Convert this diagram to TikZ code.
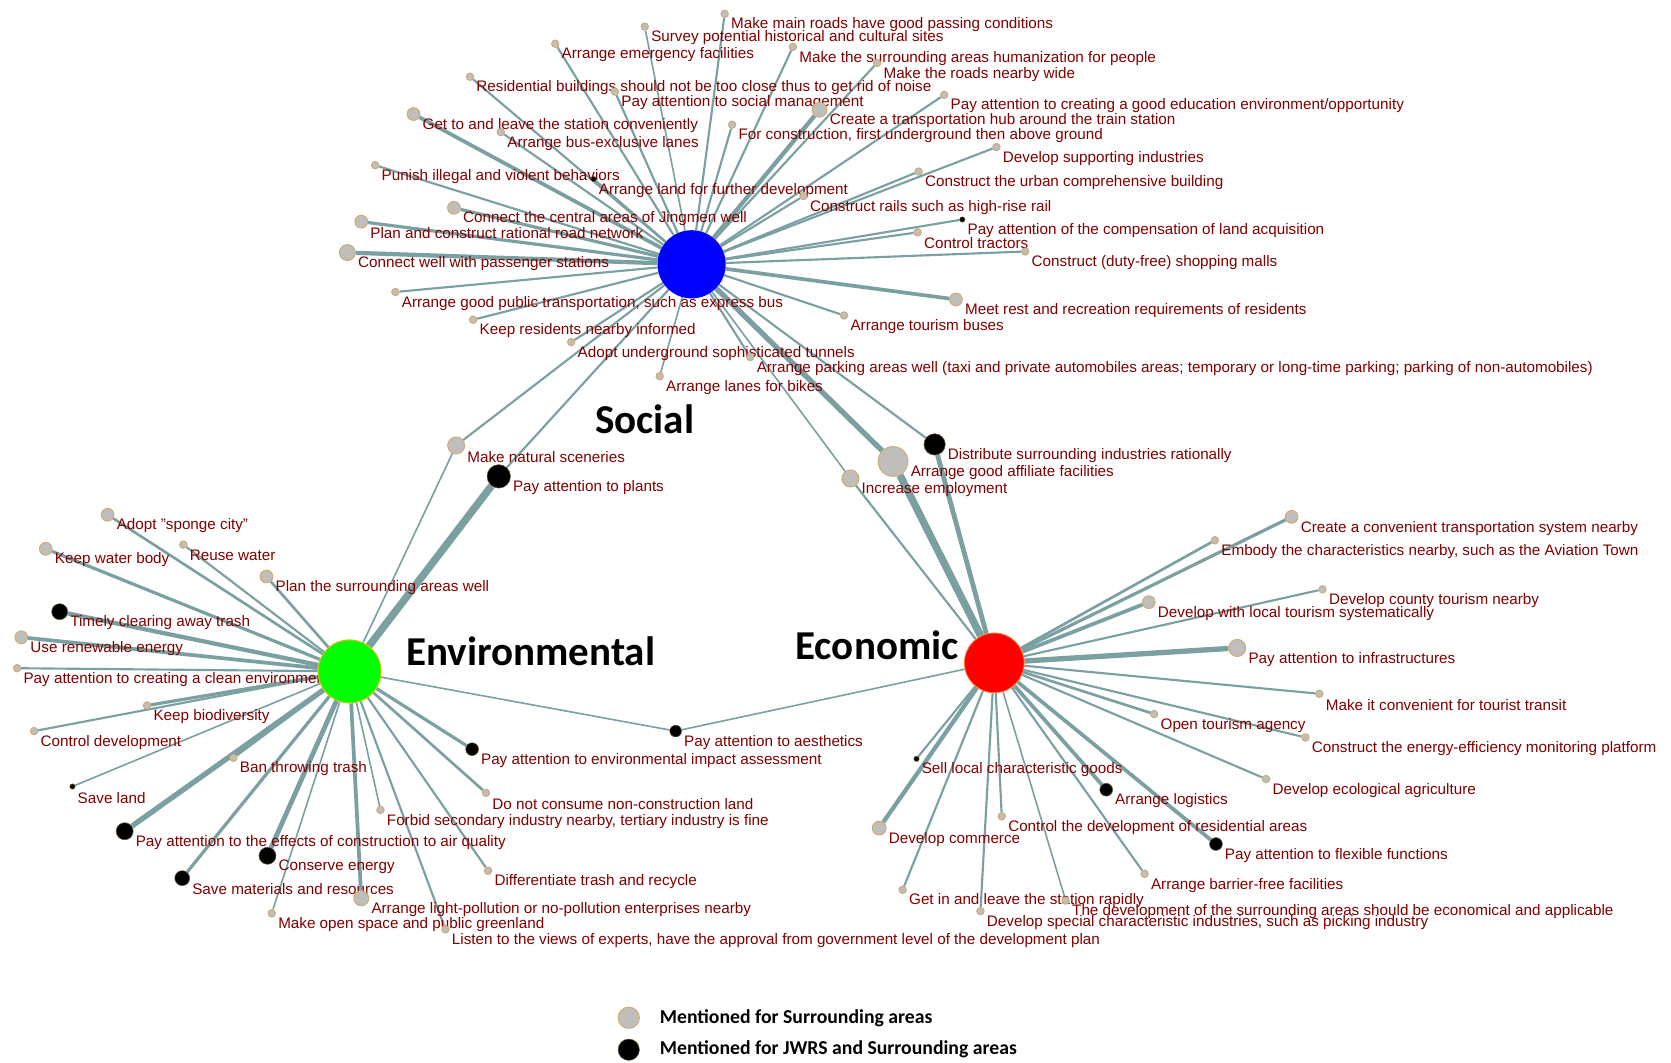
\documentclass[tikz,border=0pt]{standalone}
\usepackage{fontspec}
\setmainfont{Liberation Sans}
\newfontfamily\calib{Carlito}
\usetikzlibrary{calc}
\pgfdeclarelayer{bg}
\pgfdeclarelayer{edges}
\pgfdeclarelayer{front}
\pgfsetlayers{bg,edges,main,front}
\definecolor{edgec}{RGB}{122,160,162}
\definecolor{lblred}{RGB}{128,0,0}
\definecolor{nodefill}{RGB}{192,190,186}
\definecolor{nodeborder}{RGB}{205,168,110}
\definecolor{hubgreen}{RGB}{0,255,0}
\definecolor{hubgreenb}{RGB}{190,200,0}
\definecolor{hubredb}{RGB}{255,120,40}
\tikzset{
 lbl/.style={text=lblred, font=\fontsize{14.3}{15}\selectfont, anchor=west, inner sep=0pt},
 gnode/.style={circle, fill=nodefill, draw=nodeborder, line width=0.8pt, inner sep=0pt, minimum size=#1},
 bnode/.style={circle, fill=black, draw=nodeborder!50!black, line width=0.5pt, inner sep=0pt, minimum size=#1},
 edge/.style={draw=edgec},
 hubnode/.style={circle, inner sep=0pt, minimum size=#1},
 titletext/.style={font=\calib\bfseries\fontsize{38.5}{42}\selectfont, text=black},
 legendtext/.style={font=\calib\bfseries\fontsize{18.5}{21}\selectfont, anchor=west, inner sep=0pt},
}
% #1 name, #2 x, #3 y, #4 node style, #5 hub, #6 edge width, #7 text
\newcommand\leaf[7]{%
 \node[#4] (#1) at (#2,#3) {};
 \node[lbl] (#1-t) at ([shift={(2,10.5)}]#1.east) {#7};
 \begin{pgfonlayer}{edges}\draw[edge, line width=#6pt] (#5) -- (#1);\end{pgfonlayer}%
}
\newcommand\link[3]{\begin{pgfonlayer}{edges}\draw[edge, line width=#3pt] (#1) -- (#2);\end{pgfonlayer}}
\begin{document}
\begin{tikzpicture}[x=1pt,y=-1pt]
\begin{pgfonlayer}{bg}
\fill[white] (0,0) rectangle (1568,997);
\end{pgfonlayer}
\useasboundingbox (0,0) rectangle (1568,997);
\begin{pgfonlayer}{front}
\node[hubnode=64, fill=blue] (S) at (649,248) {};
\node[hubnode=59, fill=hubgreen, draw=hubgreenb, line width=1pt] (E) at (328,630) {};
\node[hubnode=56, fill=red, draw=hubredb, line width=0.8pt] (C) at (933,622) {};
\end{pgfonlayer}
% ---------------- Social ----------------
\leaf{s1}{680}{13}{gnode=7}{S}{2}{Make main roads have good passing conditions}
\leaf{s2}{605}{25}{gnode=7}{S}{1.5}{Survey potential historical and cultural sites}
\leaf{s3}{521}{41}{gnode=7}{S}{2}{Arrange emergency facilities}
\leaf{s4}{744}{44}{gnode=7}{S}{2}{Make the surrounding areas humanization for people}
\leaf{s5}{823}{59}{gnode=7}{S}{2}{Make the roads nearby wide}
\leaf{s6}{441}{72}{gnode=7}{S}{2}{Residential buildings should not be too close thus to get rid of noise}
\leaf{s7}{577}{86}{gnode=7}{S}{2}{Pay attention to social management}
\leaf{s8}{886}{89}{gnode=7}{S}{2}{Pay attention to creating a good education environment/opportunity}
\leaf{s9}{769}{103}{gnode=14}{S}{4}{Create a transportation hub around the train station}
\leaf{s10}{388}{107}{gnode=12}{S}{3.5}{Get to and leave the station conveniently}
\leaf{s11}{470}{124}{gnode=7}{S}{2}{Arrange bus-exclusive lanes}
\leaf{s12}{687}{117}{gnode=7}{S}{2}{For construction, first underground then above ground}
\leaf{s13}{935}{138}{gnode=7}{S}{2}{Develop supporting industries}
\leaf{s14}{352}{155}{gnode=7}{S}{2}{Punish illegal and violent behaviors}
\leaf{s15}{862}{161}{gnode=7}{S}{2}{Construct the urban comprehensive building}
\leaf{s16}{557}{168}{bnode=5}{S}{2}{Arrange land for further development}
\leaf{s17}{754}{184}{gnode=7}{S}{2}{Construct rails such as high-rise rail}
\leaf{s18}{426}{195}{gnode=12}{S}{3}{Connect the central areas of Jingmen well}
\leaf{s19}{903}{206}{bnode=5}{S}{2}{Pay attention of the compensation of land acquisition}
\leaf{s20}{339}{208}{gnode=12}{S}{3}{Plan and construct rational road network}
\leaf{s21}{861}{218}{gnode=7}{S}{2}{Control tractors}
\leaf{s22}{962}{236}{gnode=7}{S}{2}{Construct (duty-free) shopping malls}
\leaf{s23}{326}{237}{gnode=15}{S}{4}{Connect well with passenger stations}
\leaf{s24}{371}{274}{gnode=7}{S}{2}{Arrange good public transportation, such as express bus}
\leaf{s25}{897}{281}{gnode=12}{S}{3.5}{Meet rest and recreation requirements of residents}
\leaf{s26}{444}{300}{gnode=7}{S}{2}{Keep residents nearby informed}
\leaf{s27}{792}{296}{gnode=7}{S}{2}{Arrange tourism buses}
\leaf{s28}{536}{321}{gnode=7}{S}{2}{Adopt underground sophisticated tunnels}
\leaf{s29}{704}{335}{gnode=7}{S}{2}{Arrange parking areas well (taxi and private automobiles areas; temporary or long-time parking; parking of non-automobiles)}
\leaf{s30}{619}{353}{gnode=7}{S}{1.5}{Arrange lanes for bikes}
% ---------------- Bridges ----------------
\leaf{b1}{428}{418}{gnode=16}{S}{2}{Make natural sceneries}
\link{b1}{E}{1.5}
\leaf{b2}{468}{447}{bnode=22}{S}{2}{Pay attention to plants}
\link{b2}{E}{7}
\leaf{b3}{877}{417}{bnode=20}{S}{2}{Distribute surrounding industries rationally}
\link{b3}{C}{4.5}
\leaf{b4}{838}{433}{gnode=28}{S}{5}{Arrange good affiliate facilities}
\link{b4}{C}{7}
\leaf{b5}{798}{449}{gnode=16}{S}{1.5}{Increase employment}
\link{b5}{C}{2}
\leaf{b6}{634}{686}{bnode=11}{E}{1.5}{Pay attention to aesthetics}
\link{b6}{C}{1.5}
% ---------------- Environmental ----------------
\leaf{e1}{101}{483}{gnode=12}{E}{2.5}{Adopt "sponge city"}
\leaf{e2}{172}{511}{gnode=7}{E}{2}{Reuse water}
\leaf{e3}{43}{515}{gnode=12}{E}{3}{Keep water body}
\leaf{e4}{250}{541}{gnode=12}{E}{2.5}{Plan the surrounding areas well}
\leaf{e5}{56}{574}{bnode=15}{E}{4}{Timely clearing away trash}
\leaf{e6}{20}{598}{gnode=12}{E}{3.5}{Use renewable energy}
\leaf{e7}{16}{627}{gnode=7}{E}{2}{Pay attention to creating a clean environment}
\leaf{e8}{138}{662}{gnode=7}{E}{3}{Keep biodiversity}
\leaf{e9}{32}{686}{gnode=7}{E}{2}{Control development}
\leaf{e10}{219}{711}{gnode=7}{E}{2.5}{Ban throwing trash}
\leaf{e11}{68}{738}{bnode=5}{E}{1.5}{Save land}
\leaf{e12}{117}{780}{bnode=16}{E}{5}{Pay attention to the effects of construction to air quality}
\leaf{e13}{251}{803}{bnode=16}{E}{4.5}{Conserve energy}
\leaf{e14}{171}{824}{bnode=14}{E}{3}{Save materials and resources}
\leaf{e15}{339}{843}{gnode=14}{E}{3.5}{Arrange light-pollution or no-pollution enterprises nearby}
\leaf{e16}{255}{857}{gnode=7}{E}{1.5}{Make open space and public greenland}
\leaf{e17}{418}{872}{gnode=7}{E}{2}{Listen to the views of experts, have the approval from government level of the development plan}
\leaf{e18}{458}{817}{gnode=7}{E}{2}{Differentiate trash and recycle}
\leaf{e19}{357}{760}{gnode=7}{E}{1.5}{Forbid secondary industry nearby, tertiary industry is fine}
\leaf{e20}{456}{744}{gnode=7}{E}{2.5}{Do not consume non-construction land}
\leaf{e21}{443}{703}{bnode=12}{E}{3}{Pay attention to environmental impact assessment}
% ---------------- Economic ----------------
\leaf{c1}{1212}{485}{gnode=12}{C}{3}{Create a convenient transportation system nearby}
\leaf{c2}{1140}{507}{gnode=7}{C}{2.5}{Embody the characteristics nearby, such as the Aviation Town}
\leaf{c3}{1241}{553}{gnode=7}{C}{2}{Develop county tourism nearby}
\leaf{c4}{1078}{565}{gnode=12}{C}{3.5}{Develop with local tourism systematically}
\leaf{c5}{1161}{608}{gnode=16}{C}{5}{Pay attention to infrastructures}
\leaf{c6}{1238}{651}{gnode=7}{C}{2}{Make it convenient for tourist transit}
\leaf{c7}{1083}{670}{gnode=7}{C}{2.5}{Open tourism agency}
\leaf{c8}{1225}{692}{gnode=7}{C}{2}{Construct the energy-efficiency monitoring platform}
\leaf{c9}{1188}{731}{gnode=7}{C}{2}{Develop ecological agriculture}
\leaf{c10}{860}{712}{bnode=5}{C}{2}{Sell local characteristic goods}
\leaf{c11}{1038}{741}{bnode=12}{C}{3.5}{Arrange logistics}
\leaf{c12}{940}{766}{gnode=7}{C}{2}{Control the development of residential areas}
\leaf{c13}{825}{777}{gnode=13}{C}{4}{Develop commerce}
\leaf{c14}{1141}{792}{bnode=12}{C}{3.5}{Pay attention to flexible functions}
\leaf{c15}{1074}{820}{gnode=7}{C}{2}{Arrange barrier-free facilities}
\leaf{c16}{847}{835}{gnode=7}{C}{2}{Get in and leave the station rapidly}
\leaf{c17}{1000}{845}{gnode=7}{C}{1.5}{The development of the surrounding areas should be economical and applicable}
\leaf{c18}{920}{855}{gnode=7}{C}{2}{Develop special characteristic industries, such as picking industry}
% ---------------- Titles ----------------
\node[titletext] (tS) at (605,393) {Social};
\node[titletext] (tE) at (498,611) {Environmental};
\node[titletext] (tC) at (823,605) {Economic};
% ---------------- Legend ----------------
\node[gnode=20] (lg1) at (590,955) {};
\node[legendtext] (lg1-t) at (619,955) {Mentioned for Surrounding areas};
\node[bnode=20] (lg2) at (590,985) {};
\node[legendtext] (lg2-t) at (619,985) {Mentioned for JWRS and Surrounding areas};
\end{tikzpicture}
\end{document}
